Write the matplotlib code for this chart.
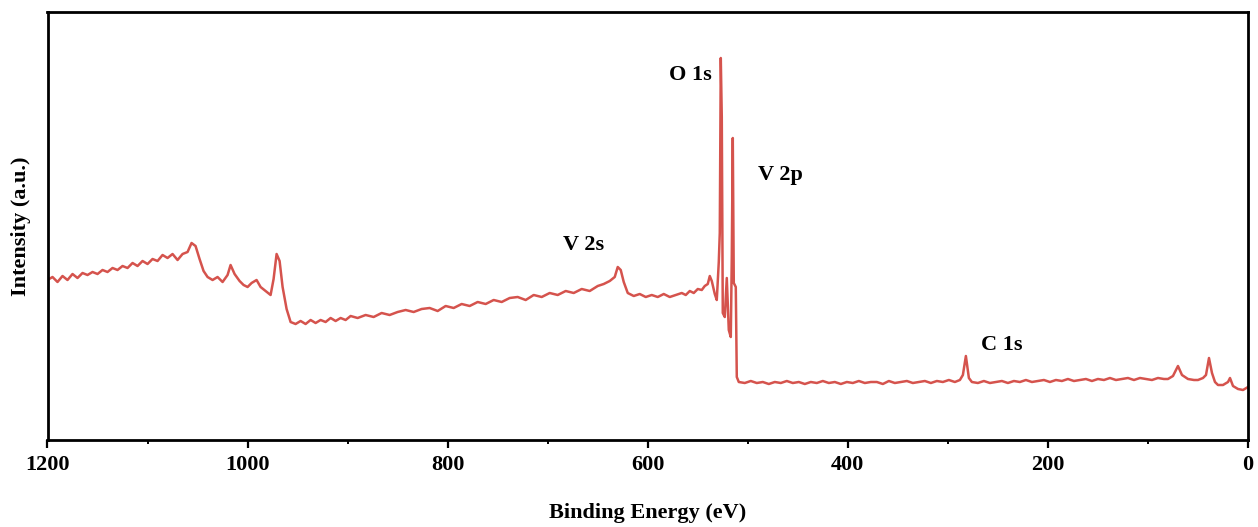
import numpy as np
import matplotlib.pyplot as plt
from matplotlib.ticker import MultipleLocator

# XPS survey: binding energy (eV) and intensity (a.u.)
be = [1200, 1195, 1190, 1185, 1180, 1175, 1170, 1165, 1160, 1155, 1150, 1145,
      1140, 1135, 1130, 1125, 1120, 1115, 1110, 1105, 1100, 1095, 1090, 1085,
      1080, 1075, 1070, 1065, 1060, 1056, 1052, 1048, 1044, 1040, 1035, 1030,
      1025, 1020, 1017, 1013, 1008, 1004, 1000, 996, 991, 987, 982, 977,
      974, 971, 968, 965, 961, 957, 952, 947, 942, 937, 932, 927,
      922, 917, 912, 907, 902, 897, 890, 882, 874, 866, 858, 850,
      842, 834, 826, 818, 810, 802, 794, 786, 778, 770, 762, 754,
      746, 738, 730, 722, 714, 706, 698, 690, 682, 674, 666, 658,
      650, 644, 638, 633, 630, 627, 624, 620, 614, 608, 602, 596,
      590, 584, 578, 572, 566, 562, 558, 554, 550, 546, 543, 540, 538, 536,
      533, 531, 529, 528, 527, 526, 525, 523, 521, 519, 517, 516,
      515, 514, 512, 511, 509, 503, 497, 491, 485, 479, 473, 467,
      461, 455, 449, 443, 437, 431, 425, 419, 413, 407, 401, 395,
      389, 383, 377, 371, 365, 359, 353, 347, 341, 335, 329, 323,
      317, 311, 305, 299, 293, 288, 285, 282, 279, 276, 270, 264,
      258, 252, 246, 240, 234, 228, 222, 216, 210, 204, 198, 192,
      186, 180, 174, 168, 162, 156, 150, 144, 138, 132, 126, 120,
      114, 108, 102, 96, 90, 84, 80, 75, 70, 66, 60, 54,
      50, 45, 42, 39, 36, 33, 30, 25, 20, 18, 15, 10,
      5, 0]
intensity = [157, 160, 155, 161, 157, 163, 159, 164, 162, 165, 163, 167,
             165, 169, 167, 171, 169, 174, 171, 176, 173, 178, 176, 182,
             179, 183, 177, 183, 185, 194, 191, 178, 166, 160, 157, 160,
             155, 162, 172, 163, 156, 152, 150, 154, 157, 150, 146, 142,
             158, 183, 176, 150, 128, 115, 113, 116, 113, 117, 114, 117,
             115, 119, 116, 119, 117, 121, 119, 122, 120, 124, 122, 125,
             127, 125, 128, 129, 126, 131, 129, 133, 131, 135, 133, 137,
             135, 139, 140, 137, 142, 140, 144, 142, 146, 144, 148, 146,
             151, 153, 156, 160, 170, 167, 155, 144, 141, 143, 140, 142,
             140, 143, 140, 142, 144, 142, 146, 144, 148, 147, 151, 153, 161, 156,
             143, 137, 175, 204, 379, 320, 124, 120, 159, 107, 100, 180,
             299, 154, 150, 60, 55, 54, 56, 54, 55, 53, 55, 54,
             56, 54, 55, 53, 55, 54, 56, 54, 55, 53, 55, 54,
             56, 54, 55, 55, 53, 56, 54, 55, 56, 54, 55, 56,
             54, 56, 55, 57, 55, 57, 62, 81, 59, 55, 54, 56,
             54, 55, 56, 54, 56, 55, 57, 55, 56, 57, 55, 57,
             56, 58, 56, 57, 58, 56, 58, 57, 59, 57, 58, 59,
             57, 59, 58, 57, 59, 58, 58, 61, 71, 62, 58, 57,
             57, 59, 62, 79, 64, 55, 52, 52, 55, 59, 51, 48,
             47, 50]

peak_labels = ['O 1s', 'V 2p', 'V 2s', 'C 1s']
label_be = [557, 467, 664, 246]
label_int = [362, 262, 192, 92]

plt.rcParams['font.family'] = ['Liberation Serif', 'DejaVu Serif']
plt.rcParams['font.weight'] = 'bold'

fig = plt.figure(figsize=(12.58, 5.27), dpi=100)
ax = fig.add_axes([47.5 / 1258, 87 / 527, 1200.5 / 1258, 428 / 527])

ax.plot(be, intensity, color='#d5534d', linewidth=1.8)

for lab, x, y in zip(peak_labels, label_be, label_int):
    ax.text(x, y, lab, ha='center', va='center', fontsize=16, fontweight='bold')

ax.set_xlim(1200, 0)
ax.set_ylim(-3, 425)
ax.xaxis.set_major_locator(MultipleLocator(200))
ax.xaxis.set_minor_locator(MultipleLocator(100))
ax.set_yticks([])
ax.tick_params(axis='x', which='major', direction='out', length=6, width=1.6,
               labelsize=16, pad=5)
ax.tick_params(axis='x', which='minor', direction='out', length=3, width=1.4)
for lab in ax.get_xticklabels():
    lab.set_fontweight('bold')
for sp in ax.spines.values():
    sp.set_linewidth(2)

ax.set_xlabel('Binding Energy (eV)', fontsize=16, fontweight='bold', labelpad=20)
ax.set_ylabel('Intensity (a.u.)', fontsize=16, fontweight='bold', labelpad=12)

fig.savefig('out.png', dpi=100)
